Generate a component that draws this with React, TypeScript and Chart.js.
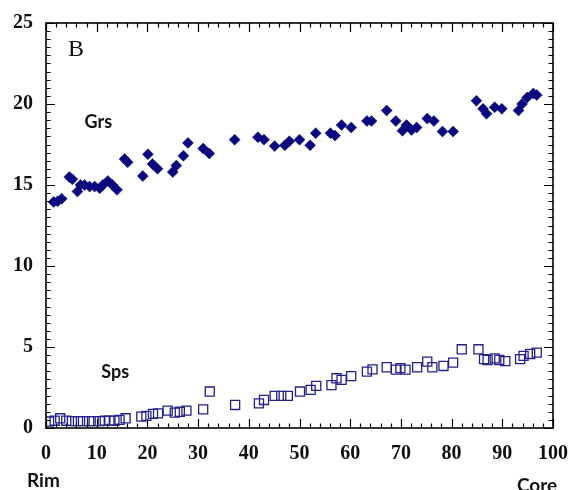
import React, { useEffect, useRef } from "react";
import { Chart, registerables } from "chart.js";

Chart.register(...registerables);

// Grs (filled diamonds)
const grsX = [1.5, 2.3, 3.1, 4.6, 5.2, 6.2, 6.8, 7.6, 8.6, 9.6, 10.6, 11.2, 12.2, 13.1, 14.0, 15.5, 16.1, 19.1, 20.1, 21.0, 22.0, 25.0, 25.7, 27.1, 28.0, 31.0, 32.2, 37.2, 41.8, 43.0, 45.1, 47.1, 48.0, 50.0, 52.1, 53.2, 56.1, 57.0, 58.3, 60.2, 63.3, 64.2, 67.2, 69.0, 70.3, 71.1, 72.1, 73.1, 75.2, 76.5, 78.2, 80.3, 84.9, 86.2, 86.9, 88.5, 89.9, 93.2, 93.9, 94.9, 96.1, 96.8];
const grsY = [13.95, 14.0, 14.15, 15.5, 15.35, 14.6, 15.0, 15.0, 14.9, 14.9, 14.8, 15.0, 15.25, 15.0, 14.7, 16.6, 16.4, 15.55, 16.9, 16.3, 16.0, 15.8, 16.2, 16.8, 17.6, 17.25, 16.95, 17.8, 17.95, 17.8, 17.4, 17.45, 17.7, 17.8, 17.45, 18.2, 18.2, 18.05, 18.7, 18.55, 18.95, 18.95, 19.6, 18.95, 18.35, 18.7, 18.4, 18.55, 19.1, 18.95, 18.3, 18.3, 20.2, 19.7, 19.4, 19.8, 19.7, 19.6, 20.0, 20.4, 20.65, 20.55];

// Sps (open squares)
const spsX = [0.6, 1.7, 2.8, 4.0, 5.1, 6.3, 7.3, 8.5, 9.4, 10.6, 11.6, 12.5, 13.5, 14.5, 15.7, 18.8, 19.8, 21.1, 22.1, 24.0, 25.4, 26.4, 27.7, 31.0, 32.3, 37.3, 42.0, 43.0, 45.1, 46.4, 47.7, 50.1, 52.2, 53.3, 56.3, 57.3, 58.3, 60.2, 63.3, 64.4, 67.2, 69.0, 69.9, 70.9, 73.2, 75.2, 76.2, 78.4, 80.3, 82.0, 85.3, 86.4, 87.1, 88.5, 89.4, 90.6, 93.5, 94.2, 95.5, 96.8];
const spsY = [0.4, 0.45, 0.6, 0.45, 0.42, 0.42, 0.42, 0.42, 0.42, 0.42, 0.45, 0.45, 0.45, 0.5, 0.6, 0.7, 0.75, 0.87, 0.9, 1.07, 0.95, 1.0, 1.07, 1.15, 2.25, 1.42, 1.52, 1.73, 1.98, 1.98, 1.98, 2.25, 2.35, 2.6, 2.65, 3.07, 2.97, 3.2, 3.48, 3.62, 3.75, 3.6, 3.7, 3.6, 3.75, 4.1, 3.75, 3.83, 4.04, 4.86, 4.86, 4.25, 4.2, 4.3, 4.2, 4.13, 4.25, 4.45, 4.57, 4.65];

const xRange = [0, 100];
const yRange = [0, 25];
const xStep = 10;
const yStep = 5;
const xMinorStep = 2;
const yMinorStep = 0.5;

const panelLabel = "B";
const grsLabel = "Grs";
const spsLabel = "Sps";
const rimLabel = "Rim";
const coreLabel = "Core";

const NAVY = "#0a0a7e";

const framePlugin = {
  id: "frameTicks",
  afterDraw(chart: any) {
    const { ctx, chartArea: a, scales } = chart;
    const x = scales.x;
    const y = scales.y;
    ctx.save();
    ctx.strokeStyle = "#000";
    ctx.lineWidth = 1.2;
    ctx.beginPath();
    const nx = Math.round((xRange[1] - xRange[0]) / xMinorStep);
    for (let i = 0; i <= nx; i++) {
      const v = xRange[0] + i * xMinorStep;
      const px = Math.round(x.getPixelForValue(v)) + 0.5;
      const len = Math.abs(v % xStep) < 1e-6 ? 9 : 4.5;
      ctx.moveTo(px, a.bottom);
      ctx.lineTo(px, a.bottom - len);
      ctx.moveTo(px, a.top);
      ctx.lineTo(px, a.top + len);
    }
    const ny = Math.round((yRange[1] - yRange[0]) / yMinorStep);
    for (let i = 0; i <= ny; i++) {
      const v = yRange[0] + i * yMinorStep;
      const py = Math.round(y.getPixelForValue(v)) + 0.5;
      const len = Math.abs(v % yStep) < 1e-6 ? 9 : 4.5;
      ctx.moveTo(a.left, py);
      ctx.lineTo(a.left + len, py);
      ctx.moveTo(a.right, py);
      ctx.lineTo(a.right - len, py);
    }
    ctx.stroke();
    ctx.lineWidth = 1.6;
    ctx.strokeRect(a.left, a.top, a.right - a.left, a.bottom - a.top);

    ctx.fillStyle = "#111";
    ctx.textBaseline = "alphabetic";
    ctx.textAlign = "left";
    ctx.font = "24px 'Liberation Serif', 'Times New Roman', serif";
    ctx.fillText(panelLabel, 68, 56);

    ctx.font = "bold 18px Lato, 'Open Sans', sans-serif";
    ctx.fillText(grsLabel, x.getPixelForValue(7.6), y.getPixelForValue(18.5));
    ctx.fillText(spsLabel, x.getPixelForValue(10.9), y.getPixelForValue(3.1));

    ctx.font = "bold 19px Lato, 'Open Sans', sans-serif";
    ctx.fillText(rimLabel, 27, 487);
    ctx.fillText(coreLabel, 517, 492);
    ctx.restore();
  },
};

export default function App() {
  const ref = useRef<HTMLCanvasElement | null>(null);

  useEffect(() => {
    if (!ref.current) return;
    const tickFont = { family: "'Liberation Serif', 'Times New Roman', serif", size: 20, weight: "bold" as const };
    const chart = new Chart(ref.current, {
      type: "scatter",
      data: {
        datasets: [
          {
            label: grsLabel,
            data: grsX.map((v, i) => ({ x: v, y: grsY[i] })),
            pointStyle: "rectRot",
            pointRadius: 5.5,
            backgroundColor: NAVY,
            borderColor: NAVY,
            borderWidth: 0.5,
          },
          {
            label: spsLabel,
            data: spsX.map((v, i) => ({ x: v, y: spsY[i] })),
            pointStyle: "rect",
            pointRadius: 6.4,
            backgroundColor: "rgba(255,255,255,0)",
            borderColor: "#22228a",
            borderWidth: 1.3,
          },
        ],
      },
      options: {
        responsive: false,
        animation: false,
        devicePixelRatio: 1,
        layout: { padding: { top: 23, right: 19, left: 0, bottom: 0 } },
        plugins: { legend: { display: false }, tooltip: { enabled: false } },
        scales: {
          x: {
            type: "linear",
            min: xRange[0],
            max: xRange[1],
            grid: { display: false, drawTicks: false },
            border: { display: false },
            ticks: { stepSize: xStep, color: "#111", font: tickFont, padding: 14, maxRotation: 0 },
            afterFit: (s: any) => {
              s.height = 62;
              s.paddingLeft = 0;
              s.paddingRight = 0;
            },
          },
          y: {
            type: "linear",
            min: yRange[0],
            max: yRange[1],
            grid: { display: false, drawTicks: false },
            border: { display: false },
            ticks: { stepSize: yStep, color: "#111", font: tickFont, padding: 13 },
            afterFit: (s: any) => {
              s.width = 46;
              s.paddingTop = 0;
              s.paddingBottom = 0;
            },
          },
        },
      },
      plugins: [framePlugin],
    });
    return () => chart.destroy();
  }, []);

  return (
    <div style={{ position: "absolute", left: 0, top: 0, width: 572, height: 490, background: "#fff" }}>
      <canvas ref={ref} width={572} height={490} style={{ display: "block", width: 572, height: 490 }} />
    </div>
  );
}
